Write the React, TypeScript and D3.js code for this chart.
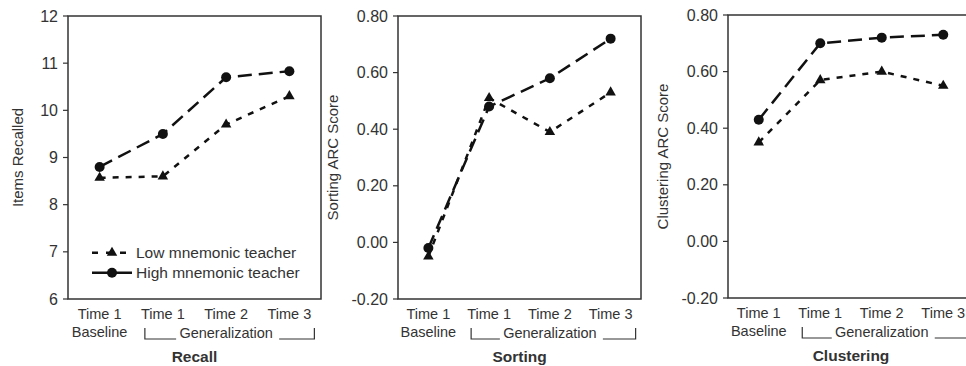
import React, { useEffect, useRef } from 'react';
import * as d3 from 'd3';

const timeLabels = ['Time 1', 'Time 1', 'Time 2', 'Time 3'];
const phaseLabels = ['Baseline', 'Generalization'];
const seriesNames = ['Low mnemonic teacher', 'High mnemonic teacher'];

const recallLow = [8.57, 8.6, 9.7, 10.3];
const recallHigh = [8.8, 9.5, 10.7, 10.83];
const sortingLow = [-0.05, 0.51, 0.39, 0.53];
const sortingHigh = [-0.02, 0.48, 0.58, 0.72];
const clusteringLow = [0.35, 0.57, 0.6, 0.55];
const clusteringHigh = [0.43, 0.7, 0.72, 0.73];

const recallTicks = [6, 7, 8, 9, 10, 11, 12];
const scoreTicks = [-0.2, 0, 0.2, 0.4, 0.6, 0.8];

const FONT = '"Liberation Sans", Arial, sans-serif';
const INK = '#333';
const LINE = '#111';

interface Panel {
  title: string;
  yTitle: string;
  low: number[];
  high: number[];
  ticks: number[];
  fmt: (v: number) => string;
  left: number;
  right: number;
  top: number;
  bottom: number;
  yTitleX: number;
  legend: boolean;
}

const panels: Panel[] = [
  { title: 'Recall', yTitle: 'Items Recalled', low: recallLow, high: recallHigh, ticks: recallTicks,
    fmt: v => String(v), left: 68, right: 321, top: 16, bottom: 299, yTitleX: 18, legend: true },
  { title: 'Sorting', yTitle: 'Sorting ARC Score', low: sortingLow, high: sortingHigh, ticks: scoreTicks,
    fmt: v => v.toFixed(2), left: 398, right: 641, top: 16, bottom: 299, yTitleX: 333, legend: false },
  { title: 'Clustering', yTitle: 'Clustering ARC Score', low: clusteringLow, high: clusteringHigh, ticks: scoreTicks,
    fmt: v => v.toFixed(2), left: 728, right: 974, top: 15, bottom: 298, yTitleX: 663, legend: false },
];

const App: React.FC = () => {
  const svgRef = useRef<SVGSVGElement>(null);

  useEffect(() => {
    if (!svgRef.current) return;
    const svg = d3.select(svgRef.current);
    svg.selectAll('*').remove();

    const tri = d3.symbol().type(d3.symbolTriangle).size(48);

    panels.forEach(p => {
      const g = svg.append('g');
      const x = d3.scaleBand<number>()
        .domain(d3.range(timeLabels.length))
        .range([p.left, p.right]);
      const cx = (i: number) => (x(i) as number) + x.bandwidth() / 2;
      const y = d3.scaleLinear()
        .domain(d3.extent(p.ticks) as [number, number])
        .range([p.bottom, p.top]);

      // frame
      g.append('rect')
        .attr('x', p.left).attr('y', p.top)
        .attr('width', p.right - p.left).attr('height', p.bottom - p.top)
        .attr('fill', 'none').attr('stroke', INK).attr('stroke-width', 1.5);

      // y ticks
      g.selectAll('.ytick')
        .data(p.ticks)
        .enter()
        .append('line')
        .attr('x1', p.left - 5).attr('x2', p.left)
        .attr('y1', d => y(d)).attr('y2', d => y(d))
        .attr('stroke', INK).attr('stroke-width', 1.2);

      g.selectAll('.ylab')
        .data(p.ticks)
        .enter()
        .append('text')
        .attr('x', p.left - 10)
        .attr('y', d => y(d))
        .attr('dy', '0.35em')
        .attr('text-anchor', 'end')
        .style('font-family', FONT).style('font-size', '16px').style('fill', INK)
        .text(d => p.fmt(d));

      // y title
      g.append('text')
        .attr('transform', `translate(${p.yTitleX}, ${(p.top + p.bottom) / 2}) rotate(-90)`)
        .attr('dy', '0.35em')
        .attr('text-anchor', 'middle')
        .style('font-family', FONT).style('font-size', '15px').style('fill', INK)
        .text(p.yTitle);

      // x labels
      g.selectAll('.xlab')
        .data(timeLabels)
        .enter()
        .append('text')
        .attr('x', (_, i) => cx(i))
        .attr('y', p.bottom + 20)
        .attr('text-anchor', 'middle')
        .style('font-family', FONT).style('font-size', '14.5px').style('fill', INK)
        .text(d => d);

      g.append('text')
        .attr('x', cx(0)).attr('y', p.bottom + 38)
        .attr('text-anchor', 'middle')
        .style('font-family', FONT).style('font-size', '14.5px').style('fill', INK)
        .text(phaseLabels[0]);

      const gc = cx(2);
      g.append('text')
        .attr('x', gc).attr('y', p.bottom + 39)
        .attr('text-anchor', 'middle')
        .style('font-family', FONT).style('font-size', '14.5px').style('fill', INK)
        .text(phaseLabels[1]);

      // bracket
      const bl = cx(1) - 18;
      const br = cx(3) + 25;
      const by = p.bottom + 40;
      const bracket = d3.path();
      bracket.moveTo(bl, by - 11); bracket.lineTo(bl, by); bracket.lineTo(gc - 50, by);
      bracket.moveTo(gc + 53, by); bracket.lineTo(br, by); bracket.lineTo(br, by - 11);
      g.append('path').attr('d', bracket.toString())
        .attr('fill', 'none').attr('stroke', INK).attr('stroke-width', 1.2);

      // title
      g.append('text')
        .attr('x', (p.left + p.right) / 2).attr('y', p.bottom + 63)
        .attr('text-anchor', 'middle')
        .style('font-family', FONT).style('font-size', '15.5px').style('font-weight', 'bold').style('fill', INK)
        .text(p.title);

      // lines
      const line = d3.line<number>()
        .x((_, i) => cx(i))
        .y(d => y(d));

      g.append('path').datum(p.low)
        .attr('fill', 'none').attr('stroke', LINE).attr('stroke-width', 2.5)
        .attr('stroke-dasharray', '6,7')
        .attr('d', line);

      g.append('path').datum(p.high)
        .attr('fill', 'none').attr('stroke', LINE).attr('stroke-width', 2.5)
        .attr('stroke-dasharray', '14,7')
        .attr('d', line);

      g.selectAll('.tri')
        .data(p.low)
        .enter()
        .append('path')
        .attr('d', tri)
        .attr('transform', (d, i) => `translate(${cx(i)}, ${y(d)})`)
        .attr('fill', LINE);

      g.selectAll('.dot')
        .data(p.high)
        .enter()
        .append('circle')
        .attr('cx', (_, i) => cx(i))
        .attr('cy', d => y(d))
        .attr('r', 5)
        .attr('fill', LINE);

      if (p.legend) {
        const lg = g.append('g').attr('transform', `translate(${p.left + 24}, ${y(7) + 1})`);
        lg.append('line')
          .attr('x1', 0).attr('x2', 40).attr('y1', 0).attr('y2', 0)
          .attr('stroke', LINE).attr('stroke-width', 2.5).attr('stroke-dasharray', '6,8');
        lg.append('path').attr('d', tri).attr('transform', 'translate(20, 0)').attr('fill', LINE);
        lg.append('text')
          .attr('x', 44).attr('y', 0).attr('dy', '0.35em')
          .style('font-family', FONT).style('font-size', '15.5px').style('fill', INK)
          .text(seriesNames[0]);

        lg.append('line')
          .attr('x1', 0).attr('x2', 40).attr('y1', 20).attr('y2', 20)
          .attr('stroke', LINE).attr('stroke-width', 2.5);
        lg.append('circle').attr('cx', 20).attr('cy', 20).attr('r', 5).attr('fill', LINE);
        lg.append('text')
          .attr('x', 44).attr('y', 20).attr('dy', '0.35em')
          .style('font-family', FONT).style('font-size', '15.5px').style('fill', INK)
          .text(seriesNames[1]);
      }
    });
  }, []);

  return (
    <svg ref={svgRef} width={966} height={366}
      style={{ position: 'absolute', left: 0, top: 0, background: '#fff' }} />
  );
};

export default App;
